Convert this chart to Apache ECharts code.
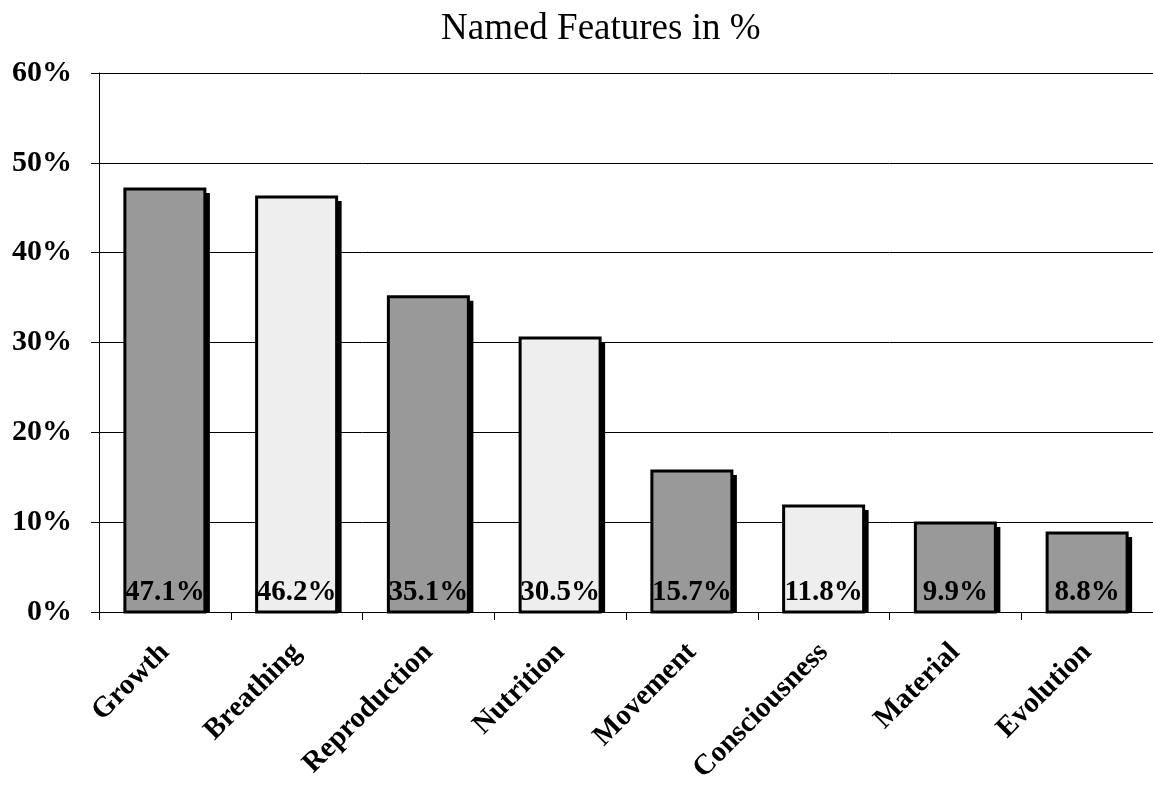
<!DOCTYPE html>
<html>
<head>
<meta charset="utf-8">
<title>Named Features in %</title>
<script src="https://cdn.jsdelivr.net/npm/echarts@6/dist/echarts.min.js"></script>
<style>
  html, body { margin: 0; padding: 0; background: #ffffff; }
  #chart { width: 1153px; height: 787px; }
</style>
</head>
<body>
<div id="chart"></div>
<script>
// Features named, share of answers in percent
const categories = ['Growth', 'Breathing', 'Reproduction', 'Nutrition', 'Movement', 'Consciousness', 'Material', 'Evolution'];
const values = [47.1, 46.2, 35.1, 30.5, 15.7, 11.8, 9.9, 8.8];
// shading of each bar: 'dark' or 'light'
const shades = ['dark', 'light', 'dark', 'light', 'dark', 'light', 'dark', 'dark'];
const yTicks = [0, 10, 20, 30, 40, 50, 60];

const SERIF = "'Liberation Serif', 'Times New Roman', Times, serif";
const shadeColor = { dark: '#999999', light: '#eeeeee' };
const BAR_W = 80;
const SHADOW = 5;

const chart = echarts.init(document.getElementById('chart'), null, { renderer: 'canvas' });

// each bar: black drop shadow, outlined body, value printed near the base
function renderBar(params, api) {
  const i = api.value(0);
  const v = api.value(1);
  const top = api.coord([i, v]);
  const base = api.coord([i, 0]);
  const x = top[0] - BAR_W / 2;
  const y = top[1];
  const h = base[1] - top[1];
  return {
    type: 'group',
    children: [
      {
        type: 'rect',
        shape: { x: x + SHADOW, y: y + SHADOW - 1, width: BAR_W, height: h - SHADOW + 1 },
        style: { fill: '#000' }
      },
      {
        type: 'rect',
        shape: { x: x, y: y, width: BAR_W, height: h },
        style: { fill: shadeColor[shades[params.dataIndex]], stroke: '#000', lineWidth: 3 }
      },
      {
        type: 'text',
        style: {
          text: v.toFixed(1) + '%',
          x: top[0],
          y: base[1] - 5,
          align: 'center',
          verticalAlign: 'bottom',
          fontFamily: SERIF,
          fontSize: 29,
          fontWeight: 'bold',
          fill: '#000'
        }
      }
    ]
  };
}

chart.setOption({
  backgroundColor: '#ffffff',
  animation: false,
  title: {
    text: 'Named Features in %',
    left: 436,
    top: 6,
    textStyle: { fontFamily: SERIF, fontSize: 37, fontWeight: 'normal', color: '#000' }
  },
  grid: { left: 99, right: -8, top: 73, bottom: 175, containLabel: false },
  xAxis: {
    type: 'category',
    data: categories,
    axisLine: { lineStyle: { color: '#000', width: 1 } },
    axisTick: { show: true, length: 8, lineStyle: { color: '#000', width: 1 } },
    axisLabel: {
      interval: 0,
      rotate: 45,
      margin: 36,
      fontFamily: SERIF,
      fontSize: 29,
      fontWeight: 'bold',
      color: '#000'
    },
    splitLine: { show: false }
  },
  yAxis: {
    type: 'value',
    min: yTicks[0],
    max: yTicks[yTicks.length - 1],
    interval: yTicks[1] - yTicks[0],
    axisLine: { show: true, lineStyle: { color: '#000', width: 1 } },
    axisTick: { show: true, length: 8, lineStyle: { color: '#000', width: 1 } },
    axisLabel: {
      margin: 27,
      formatter: '{value}%',
      fontFamily: SERIF,
      fontSize: 30,
      fontWeight: 'bold',
      color: '#000'
    },
    splitLine: { show: true, lineStyle: { color: '#000', width: 1 } }
  },
  series: [{
    type: 'custom',
    renderItem: renderBar,
    encode: { x: 0, y: 1 },
    data: values.map((v, i) => [i, v])
  }]
});
</script>
</body>
</html>
